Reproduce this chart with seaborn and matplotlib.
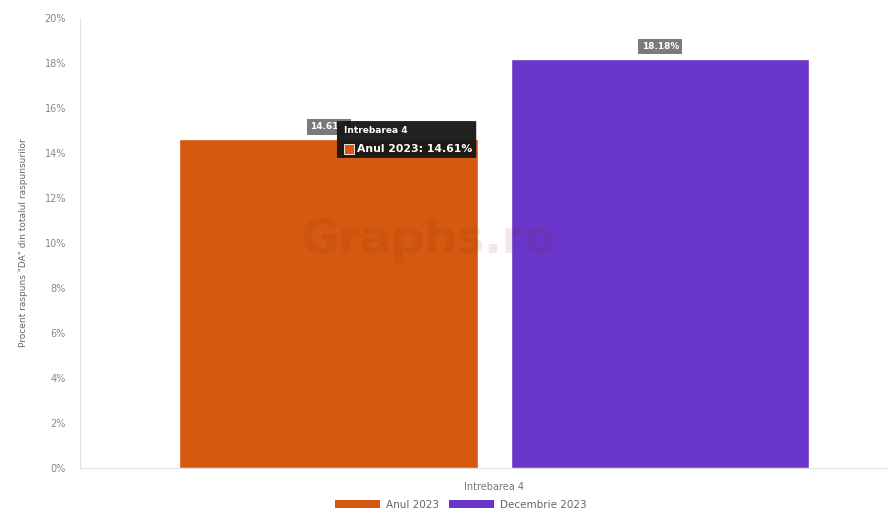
import pandas as pd
import matplotlib.pyplot as plt
import seaborn as sns
from matplotlib.patches import FancyBboxPatch, Rectangle, Patch

# date
categorii = ["Intrebarea 4"]
serii = ["Anul 2023", "Decembrie 2023"]
valori = [14.61, 18.18]
culori = ["#d5590f", "#6a35c9"]

df = pd.DataFrame({"Intrebare": categorii * len(serii), "Serie": serii, "Procent": valori})

sns.set_style("white")
plt.rcParams['font.family'] = ['DejaVu Sans']

fig = plt.figure(figsize=(8.89, 5.14), dpi=100)
ax = fig.add_axes([80 / 889, 46 / 514, 809 / 889, 450 / 514])

sns.barplot(data=df, x="Intrebare", y="Procent", hue="Serie", palette=culori,
            width=0.8, gap=0.1, saturation=1, legend=False, ax=ax)

ax.set_xlim(-0.5, 0.476)
ax.set_ylim(0, 20)
ax.set_yticks(range(0, 21, 2))
ax.set_yticklabels([f"{v}%" for v in range(0, 21, 2)], fontsize=7, color="#888888")
ax.tick_params(axis="x", labelsize=7, labelcolor="#777777", length=0, pad=10)
ax.tick_params(axis="y", length=4, color="#e5e5e5", pad=6)
ax.set_xlabel("")
ax.set_ylabel('Procent raspuns "DA" din totalul raspunsurilor', fontsize=6.5, color="#666666", labelpad=12)
for s in ["top", "right"]:
    ax.spines[s].set_visible(False)
ax.spines["left"].set_color("#e0e0e0")
ax.spines["bottom"].set_color("#e0e0e0")

# etichete valori
for bar, v in zip(ax.patches, valori):
    cx = bar.get_x() + bar.get_width() / 2
    ax.text(cx, v + 0.55, f"{v:.2f}%", ha="center", va="center", fontsize=6.5,
            color="white", fontweight="bold", zorder=5,
            bbox=dict(boxstyle="square,pad=0.35", facecolor="#7a7a7a", edgecolor="none"))

# watermark
ax.text(-0.08, 10.1, "Graphs.ro", ha="center", va="center", fontsize=33, fontweight="bold",
        color="#8b2020", alpha=0.1, zorder=6)

# tooltip
tip = FancyBboxPatch((-0.190, 13.78), 0.168, 1.64, boxstyle="round,pad=0,rounding_size=0.008",
                     facecolor="#151515", edgecolor="none", alpha=0.95, zorder=7)
ax.add_patch(tip)
ax.text(-0.182, 14.98, "Intrebarea 4", ha="left", va="center", fontsize=6.5,
        fontweight="bold", color="white", zorder=8)
ax.add_patch(Rectangle((-0.182, 13.96), 0.013, 0.44, facecolor=culori[0],
                       edgecolor="white", linewidth=0.6, zorder=8))
ax.text(-0.166, 14.18, "Anul 2023: 14.61%", ha="left", va="center", fontsize=7.8,
        fontweight="bold", color="white", zorder=8)

handles = [Patch(facecolor=c, edgecolor="none") for c in culori]
fig.legend(handles, serii, loc="center", bbox_to_anchor=(461 / 889, 1 - 505 / 514), ncol=2,
           frameon=False, handlelength=4.3, handleheight=0.8, fontsize=7.5,
           labelcolor="#666666", columnspacing=1.0, handletextpad=0.6)

fig.savefig("out.png", dpi=100)
plt.close()
